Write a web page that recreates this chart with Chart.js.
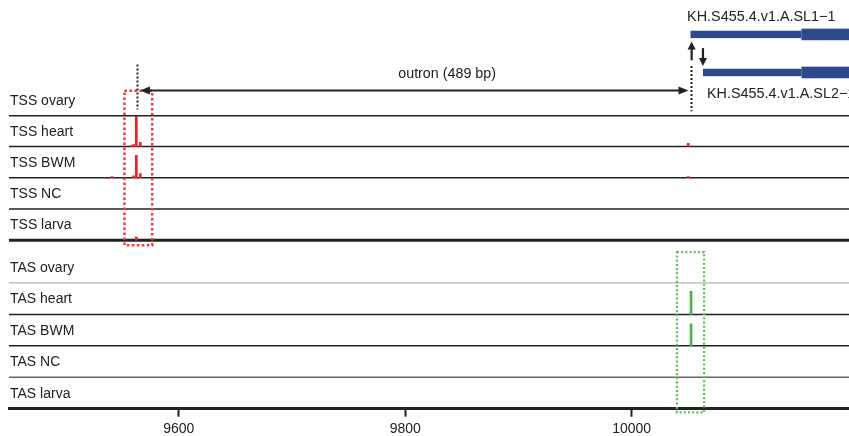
<!DOCTYPE html>
<html>
<head>
<meta charset="utf-8">
<script src="https://cdn.jsdelivr.net/npm/chart.js@4.4.1/dist/chart.umd.min.js"></script>
<style>
  html, body { margin: 0; padding: 0; background: #fff; }
  #wrap { width: 849px; height: 436px; }
</style>
</head>
<body>
<div id="wrap"><canvas id="tracks" width="849" height="436"></canvas></div>
<script>
// ---- data ----
const tssTracks = ['TSS ovary', 'TSS heart', 'TSS BWM', 'TSS NC', 'TSS larva'];
const tasTracks = ['TAS ovary', 'TAS heart', 'TAS BWM', 'TAS NC', 'TAS larva'];

// genomic positions with TSS signal
const tssPos = [9541, 9558, 9560, 9562.5, 9566, 10050];
// signal per track, as fraction of track height
const tssSignal = [
  [0, 0, 0, 0, 0, 0],              // ovary
  [0, 0.03, 0.06, 0.96, 0.13, 0.1], // heart
  [0.03, 0, 0.06, 0.71, 0.13, 0.03],// BWM
  [0, 0, 0, 0, 0, 0],              // NC
  [0, 0, 0, 0.1, 0, 0]             // larva
];

const tasPos = [10052.5];
const tasSignal = [[0], [0.73], [0.7], [0], [0]];

const tickValues = [9600, 9800, 10000];
const xMin = 9450, xMax = 10192;

// annotations (genomic coordinates)
const outronStart = 9563, outronEnd = 10052;
const outronLabel = 'outron (489 bp)';
const genes = [
  { name: 'KH.S455.4.v1.A.SL1\u22121', start: 10052, cdsStart: 10150 },
  { name: 'KH.S455.4.v1.A.SL2\u22121', start: 10063, cdsStart: 10150 }
];
const tssBox = [9552, 9576.5];
const tasBox = [10040, 10064];

// ---- layout (rows on the y scale) ----
const tssBase = [9.32, 8.34, 7.35, 6.35, 5.36];
const tasBase = [4, 3, 2, 1, 0];
const FONT = '"Liberation Sans", Arial, sans-serif';

function buildBars(pos, signal, base) {
  let out = [];
  signal.forEach((row, i) => {
    row.forEach((v, j) => {
      if (v > 0) out.push({ x: pos[j], y: [base[i], base[i] + v] });
    });
  });
  return out;
}

function arrowHead(ctx, x, y, dir, len, half) {
  ctx.beginPath();
  if (dir === 'up') { ctx.moveTo(x, y); ctx.lineTo(x - half, y + len); ctx.lineTo(x + half, y + len); }
  if (dir === 'down') { ctx.moveTo(x, y); ctx.lineTo(x - half, y - len); ctx.lineTo(x + half, y - len); }
  if (dir === 'left') { ctx.moveTo(x, y); ctx.lineTo(x + len, y - half); ctx.lineTo(x + len, y + half); }
  if (dir === 'right') { ctx.moveTo(x, y); ctx.lineTo(x - len, y - half); ctx.lineTo(x - len, y + half); }
  ctx.closePath();
  ctx.fill();
}

const trackPlugin = {
  id: 'tracks',
  beforeDatasetsDraw(chart) {
    const { ctx, chartArea: a, scales: { x, y } } = chart;
    ctx.save();
    const hline = (v, color, w) => {
      const py = y.getPixelForValue(v);
      ctx.strokeStyle = color; ctx.lineWidth = w;
      ctx.beginPath(); ctx.moveTo(a.left, py); ctx.lineTo(a.right, py); ctx.stroke();
    };
    tssBase.forEach((b, i) => hline(b, '#222', i === 4 ? 3 : 1.5));
    hline(tasBase[0], '#b4b4b4', 1.3);
    hline(tasBase[1], '#222', 1.5);
    hline(tasBase[2], '#222', 1.5);
    hline(tasBase[3], '#666', 1.5);

    // track labels
    ctx.fillStyle = '#222';
    ctx.font = '14px ' + FONT;
    ctx.textAlign = 'left';
    ctx.textBaseline = 'middle';
    tssTracks.forEach((t, i) => ctx.fillText(t, a.left + 1, y.getPixelForValue(tssBase[i] + 0.47)));
    tasTracks.forEach((t, i) => ctx.fillText(t, a.left + 1, y.getPixelForValue(tasBase[i] + 0.47)));
    ctx.restore();
  },
  afterDatasetsDraw(chart) {
    const { ctx, scales: { x, y } } = chart;
    ctx.save();

    // dotted boxes
    const box = (xs, y0, y1, color, w, dash) => {
      ctx.strokeStyle = color; ctx.lineWidth = w; ctx.setLineDash(dash);
      const l = x.getPixelForValue(xs[0]), r = x.getPixelForValue(xs[1]);
      const t = y.getPixelForValue(y0), b = y.getPixelForValue(y1);
      ctx.strokeRect(l, t, r - l, b - t);
    };
    box(tssBox, 10.11, 5.2, '#ef3b3b', 2.5, [2.5, 2.5]);
    box(tasBox, 4.98, -0.12, '#62bd5a', 2.3, [2, 2.2]);

    // dotted marker lines at outron ends
    ctx.strokeStyle = '#222'; ctx.lineWidth = 2; ctx.setLineDash([2, 2]);
    [[outronStart, 10.95, 9.52], [outronEnd, 10.9, 9.46]].forEach(([p, t, b]) => {
      const px = Math.round(x.getPixelForValue(p)) + 0.5;
      ctx.beginPath(); ctx.moveTo(px, y.getPixelForValue(t)); ctx.lineTo(px, y.getPixelForValue(b)); ctx.stroke();
    });
    ctx.setLineDash([]);

    // outron double arrow
    const ay = Math.round(y.getPixelForValue(10.14)) + 0.5;
    const ax0 = x.getPixelForValue(outronStart) + 3, ax1 = x.getPixelForValue(outronEnd) - 2;
    ctx.strokeStyle = '#222'; ctx.fillStyle = '#222'; ctx.lineWidth = 2;
    ctx.beginPath(); ctx.moveTo(ax0 + 6, ay); ctx.lineTo(ax1 - 6, ay); ctx.stroke();
    arrowHead(ctx, ax0, ay, 'left', 10, 4);
    arrowHead(ctx, ax1, ay, 'right', 10, 4);

    ctx.font = '14.3px ' + FONT;
    ctx.textAlign = 'center'; ctx.textBaseline = 'middle';
    ctx.fillText(outronLabel, x.getPixelForValue(9837), y.getPixelForValue(10.66));

    // strand arrows
    ctx.lineWidth = 2.2;
    const upX = x.getPixelForValue(10053), dnX = x.getPixelForValue(10063);
    ctx.beginPath(); ctx.moveTo(upX, y.getPixelForValue(11.08)); ctx.lineTo(upX, y.getPixelForValue(11.5)); ctx.stroke();
    arrowHead(ctx, upX, y.getPixelForValue(11.68), 'up', 8, 4);
    ctx.beginPath(); ctx.moveTo(dnX, y.getPixelForValue(11.47)); ctx.lineTo(dnX, y.getPixelForValue(11.08)); ctx.stroke();
    arrowHead(ctx, dnX, y.getPixelForValue(10.9), 'down', 8, 4);

    // gene models
    ctx.fillStyle = '#2f4a8a';
    const geneRows = [11.905, 10.695];
    genes.forEach((g, i) => {
      const c = y.getPixelForValue(geneRows[i]);
      const s = x.getPixelForValue(g.start), m = x.getPixelForValue(g.cdsStart);
      ctx.fillRect(s, c - 3.7, m - s, 7.4);
      ctx.fillRect(m, c - 5.8, chart.width - m, 11.6);
    });
    ctx.fillStyle = '#222';
    ctx.textAlign = 'left';
    ctx.font = '14.4px ' + FONT;
    ctx.fillText(genes[0].name, x.getPixelForValue(10049), y.getPixelForValue(12.46));
    ctx.fillText(genes[1].name, x.getPixelForValue(10066.5), y.getPixelForValue(10.01));

    ctx.restore();
  }
};

const chart = new Chart(document.getElementById('tracks').getContext('2d'), {
  type: 'bar',
  data: {
    datasets: [
      {
        label: 'TSS',
        data: buildBars(tssPos, tssSignal, tssBase),
        backgroundColor: '#e8222a',
        barThickness: 2,
        borderWidth: 0
      },
      {
        label: 'TAS',
        data: buildBars(tasPos, tasSignal, tasBase),
        backgroundColor: '#4cb04c',
        barThickness: 2,
        borderWidth: 0
      }
    ]
  },
  options: {
    responsive: false,
    animation: false,
    devicePixelRatio: 1,
    layout: { padding: { left: 9, right: 0, top: 0, bottom: 0 } },
    datasets: { bar: { grouped: false } },
    scales: {
      x: {
        type: 'linear',
        offset: false,
        min: xMin,
        max: xMax,
        afterBuildTicks: s => { s.ticks = tickValues.map(v => ({ value: v })); },
        afterFit: s => { s.height = 27.3; },
        grid: { offset: false, drawOnChartArea: false, drawTicks: true, tickLength: 8, tickWidth: 2, tickColor: '#222' },
        border: { display: true, width: 3, color: '#222' },
        ticks: {
          color: '#222',
          padding: 5,
          maxRotation: 0,
          font: { family: FONT, size: 14, lineHeight: 1 },
          callback: v => String(v)
        }
      },
      y: {
        display: false,
        min: 0,
        max: 13
      }
    },
    plugins: {
      legend: { display: false },
      tooltip: { enabled: false }
    }
  },
  plugins: [trackPlugin]
});
</script>
</body>
</html>
